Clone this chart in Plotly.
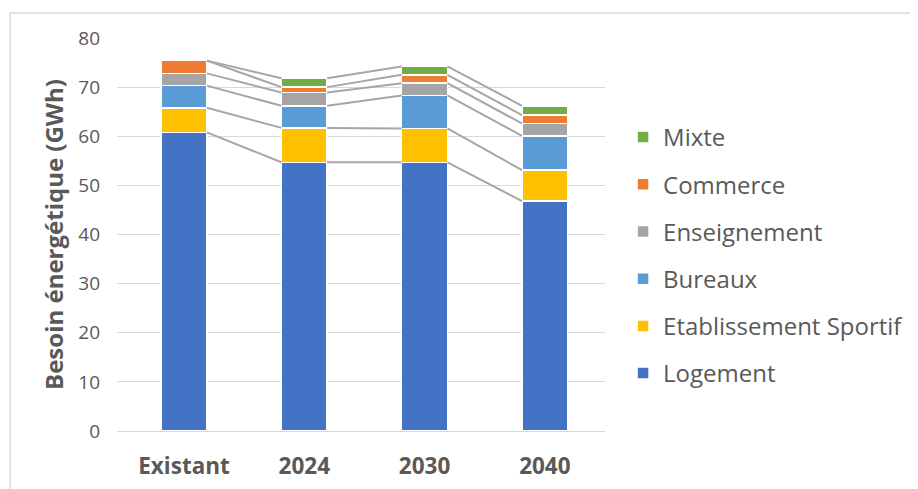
import plotly.graph_objects as go

categories = ["Existant", "2024", "2030", "2040"]
series_names = ["Logement", "Etablissement Sportif", "Bureaux", "Enseignement", "Commerce", "Mixte"]
logement = [60.8, 54.7, 54.7, 46.8]
sportif = [5.0, 7.0, 6.9, 6.3]
bureaux = [4.5, 4.5, 6.7, 7.0]
enseignement = [2.5, 2.7, 2.5, 2.5]
commerce = [2.6, 1.1, 1.7, 1.7]
mixte = [0.0, 1.8, 1.7, 1.9]
y_ticks = [0, 10, 20, 30, 40, 50, 60, 70, 80]

series_values = [logement, sportif, bureaux, enseignement, commerce, mixte]
colors = ["#4472C4", "#FFC000", "#5B9BD5", "#A5A5A5", "#ED7D31", "#70AD47"]

FONT = "Open Sans"
TXT = "#595959"
bar_w = 0.38
xs = list(range(len(categories)))
n = len(series_names)

fig = go.Figure()
for i, (name, vals, col) in enumerate(zip(series_names, series_values, colors)):
    fig.add_trace(go.Bar(
        x=xs, y=vals, name=name, width=bar_w,
        marker=dict(color=col, line=dict(color="white", width=1.5)),
        legendgroup=name, legendrank=n - i,
    ))

# series lines (cumulative tops connecting adjacent bars)
cum = [0.0] * len(categories)
for vals in series_values:
    cum = [c + v for c, v in zip(cum, vals)]
    for j in range(len(categories) - 1):
        fig.add_trace(go.Scatter(
            x=[xs[j] + bar_w / 2, xs[j + 1] - bar_w / 2],
            y=[cum[j], cum[j + 1]],
            mode="lines", line=dict(color="#A6A6A6", width=2),
            showlegend=False, hoverinfo="skip",
        ))

fig.update_layout(
    width=918, height=489,
    barmode="stack",
    plot_bgcolor="white", paper_bgcolor="white",
    margin=dict(l=109, r=321, t=30, b=66),
    font=dict(family=FONT, color=TXT),
    legend=dict(
        x=1.037, xanchor="left", y=0.4466, yanchor="middle",
        traceorder="grouped", tracegroupgap=13,
        font=dict(size=24, color=TXT, family=FONT),
        bgcolor="rgba(0,0,0,0)",
    ),
    xaxis=dict(
        tickmode="array", tickvals=xs, ticktext=categories,
        range=[-0.557, 3.5], showgrid=False, zeroline=False,
        tickfont=dict(size=22.5, color=TXT, family=FONT, weight="bold"),
        ticks="", ticklabelstandoff=19,
    ),
    yaxis=dict(
        range=[0, 80], tickvals=y_ticks,
        showgrid=True, gridcolor="#D9D9D9", gridwidth=1,
        zeroline=True, zerolinecolor="#D9D9D9", zerolinewidth=1,
        tickfont=dict(size=19, color=TXT, family=FONT),
        ticklabelstandoff=16,
        title=dict(text="Besoin énergétique (GWh)", standoff=7,
                   font=dict(size=24, color=TXT, family=FONT, weight="bold")),
    ),
    shapes=[
        dict(type="line", xref="paper", yref="paper", x0=-0.219, x1=1.7, y0=1.0636, y1=1.0636,
             line=dict(color="#D9D9D9", width=1.5)),
        dict(type="line", xref="paper", yref="paper", x0=-0.219, x1=-0.219, y0=1.0636, y1=-0.2,
             line=dict(color="#D9D9D9", width=1.5)),
    ],
)

fig.write_html("out.html")
